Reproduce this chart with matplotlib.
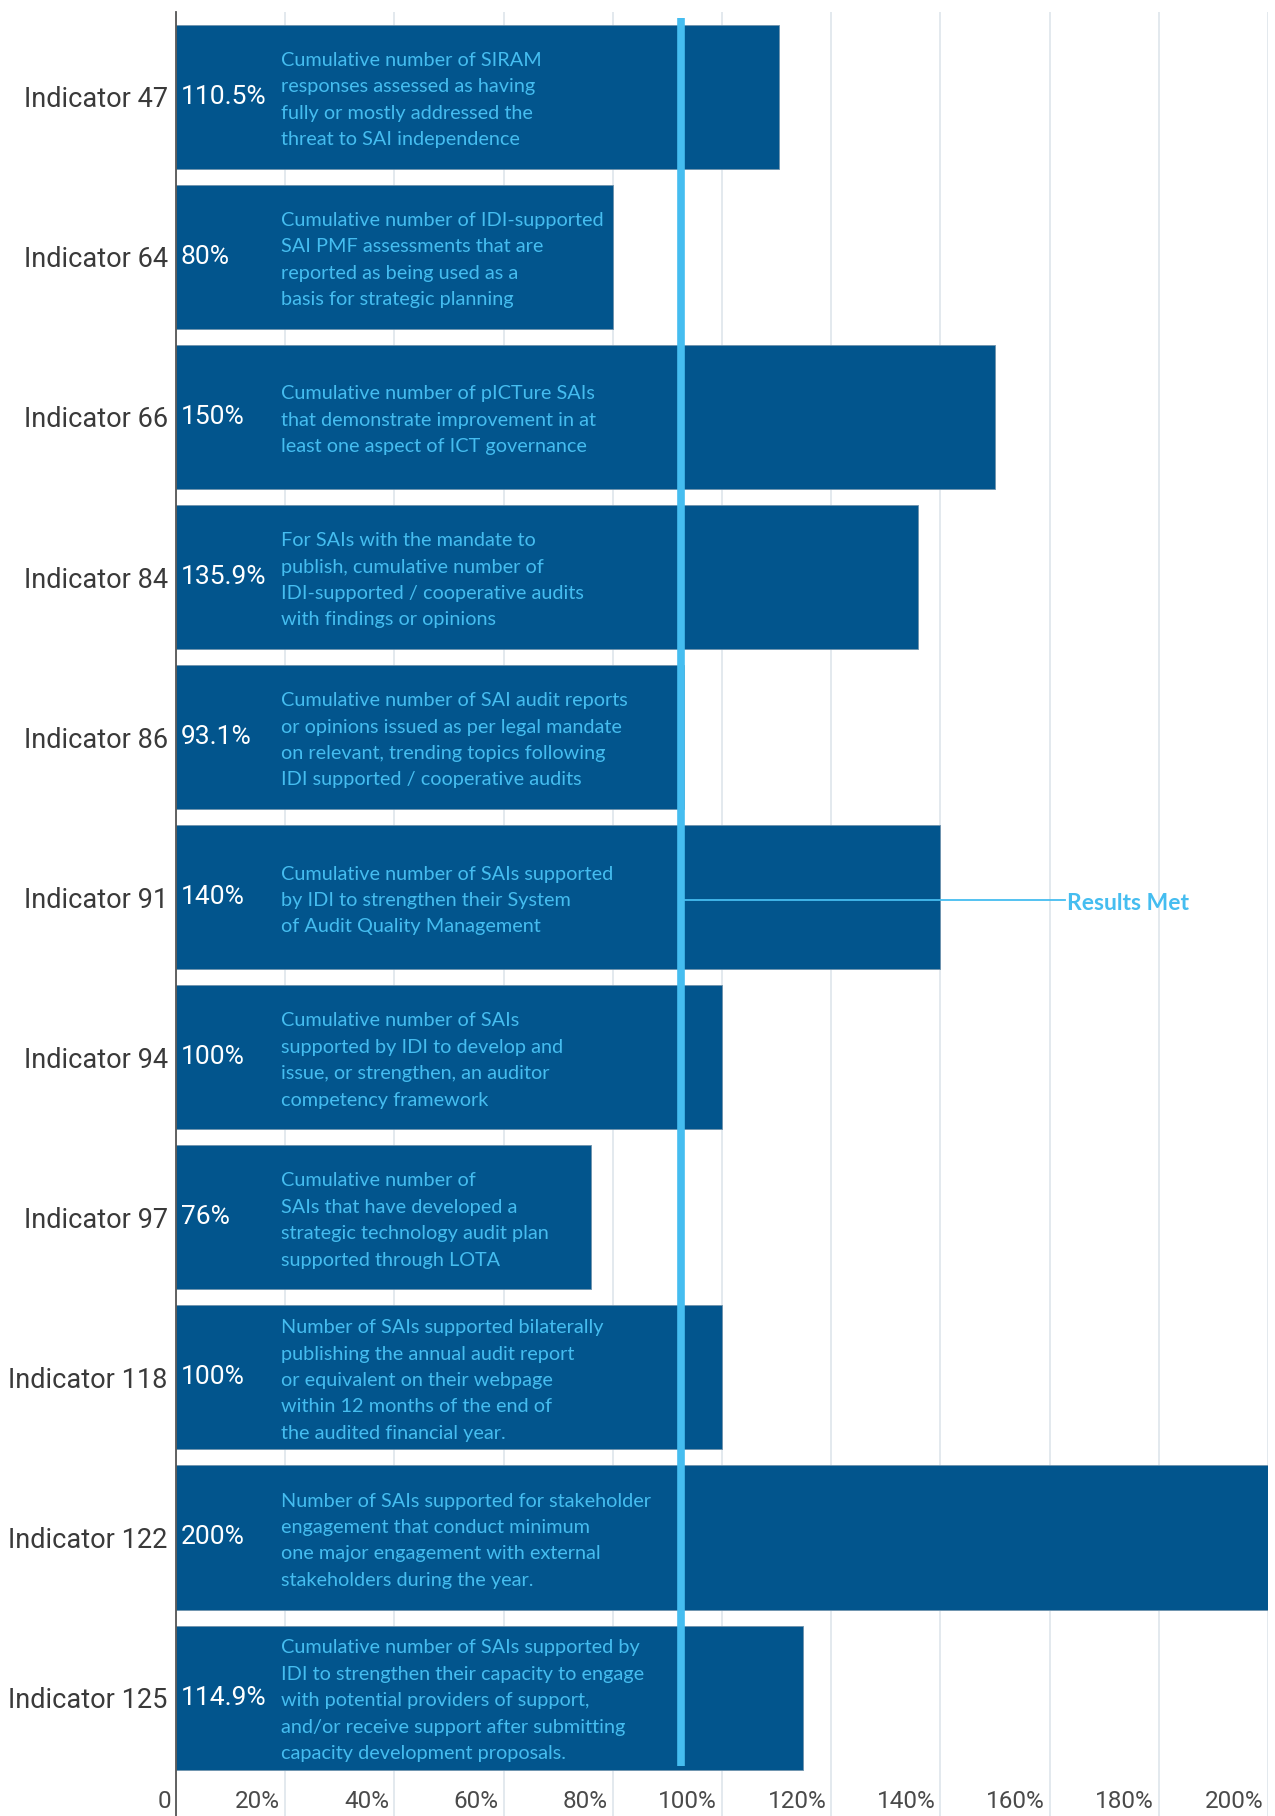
import numpy as np
import matplotlib
matplotlib.use('Agg')
import matplotlib.pyplot as plt
import matplotlib.transforms as mtrans

# chart data
indicators = ['Indicator 47', 'Indicator 64', 'Indicator 66', 'Indicator 84', 'Indicator 86',
              'Indicator 91', 'Indicator 94', 'Indicator 97', 'Indicator 118', 'Indicator 122',
              'Indicator 125']
values = [110.5, 80, 150, 135.9, 93.1, 140, 100, 76, 100, 200, 114.9]
pct_labels = ['110.5%', '80%', '150%', '135.9%', '93.1%', '140%', '100%', '76%', '100%',
              '200%', '114.9%']
descriptions = [
    'Cumulative number of SIRAM\nresponses assessed as having\nfully or mostly addressed the\nthreat to SAI independence',
    'Cumulative number of IDI-supported\nSAI PMF assessments that are\nreported as being used as a\nbasis for strategic planning',
    'Cumulative number of pICTure SAIs\nthat demonstrate improvement in at\nleast one aspect of ICT governance',
    'For SAIs with the mandate to\npublish, cumulative number of\nIDI-supported / cooperative audits\nwith findings or opinions',
    'Cumulative number of SAI audit reports\nor opinions issued as per legal mandate\non relevant, trending topics following\nIDI supported / cooperative audits',
    'Cumulative number of SAIs supported\nby IDI to strengthen their System\nof Audit Quality Management',
    'Cumulative number of SAIs\nsupported by IDI to develop and\nissue, or strengthen, an auditor\ncompetency framework',
    'Cumulative number of\nSAIs that have developed a\nstrategic technology audit plan\nsupported through LOTA',
    'Number of SAIs supported bilaterally\npublishing the annual audit report\nor equivalent on their webpage\nwithin 12 months of the end of\nthe audited financial year.',
    'Number of SAIs supported for stakeholder\nengagement that conduct minimum\none major engagement with external\nstakeholders during the year.',
    'Cumulative number of SAIs supported by\nIDI to strengthen their capacity to engage\nwith potential providers of support,\nand/or receive support after submitting\ncapacity development proposals.',
]
xticks = [0, 20, 40, 60, 80, 100, 120, 140, 160, 180, 200]
xtick_labels = ['0', '20%', '40%', '60%', '80%', '100%', '120%', '140%', '160%', '180%', '200%']
results_met_x = 92.5
results_met_label = 'Results Met'

bar_col = '#02558d'
light = '#45bdf0'

fig = plt.figure(figsize=(12.75, 18.16), dpi=100)
ax = fig.add_axes([176/1275, 0, 1092/1275, 1804/1816])

y = np.arange(len(indicators))
ax.barh(y, values, height=0.9, color=bar_col, edgecolor='#6f93ad', linewidth=0.6, zorder=2)

ax.set_xlim(0, 200)
ax.set_ylim(10.74, -0.53)

ax.set_yticks(y)
ax.set_yticklabels(indicators, fontsize=19.5, color='#3a3a3a', family='Roboto')
ax.tick_params(axis='y', length=0, pad=6)

ax.set_xticks(xticks)
ax.set_xticklabels(xtick_labels, fontsize=17.5, color='#4a4a4a', family='Roboto', ha='right')
ax.tick_params(axis='x', length=0, pad=-19)
shift = mtrans.ScaledTranslation(-5/100, 0, fig.dpi_scale_trans)
for lab in ax.get_xticklabels():
    lab.set_transform(lab.get_transform() + shift)

ax.grid(axis='x', color='#dbe3e9', linewidth=1.1, zorder=0)
ax.set_axisbelow(True)
for s in ['top', 'right', 'bottom']:
    ax.spines[s].set_visible(False)
ax.spines['left'].set_color('#555555')
ax.spines['left'].set_linewidth(1.3)
ax.spines['left'].set_zorder(5)

for i in range(len(indicators)):
    ax.text(0.9, i, pct_labels[i], color='white', fontsize=19, family='Roboto',
            va='center', ha='left', zorder=4)
    ax.text(19.2, i + 0.02, descriptions[i], color=light, fontsize=14.3, family='Lato',
            va='center', ha='left', linespacing=1.67, zorder=4)

# results met line and callout
ax.plot([results_met_x, results_met_x], [-0.49, 10.43], color=light, linewidth=5.5,
        solid_capstyle='butt', zorder=3)
ax.plot([results_met_x + 0.8, 162.8], [5.02, 5.02], color=light, linewidth=1.3, zorder=3)
ax.text(163.2, 5.04, results_met_label, color=light, fontsize=16.5, family='Lato',
        fontweight='bold', va='center', ha='left', zorder=4)

plt.savefig('out.png', dpi=100)
